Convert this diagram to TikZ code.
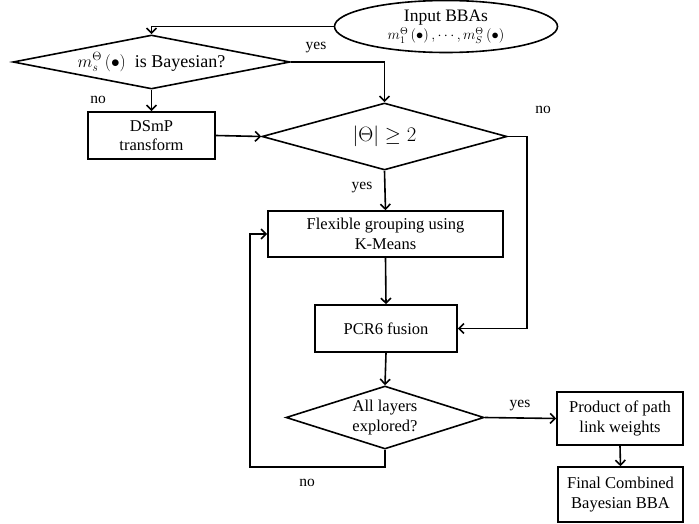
\documentclass[tikz,border=0pt]{standalone}
\usepackage{fontspec}
\setmainfont{Liberation Serif}
\usetikzlibrary{shapes.geometric,arrows.meta}
\begin{document}
\begin{tikzpicture}[x=1pt,y=-1pt,
  every node/.style={inner sep=0pt},
  box/.style={draw, line width=1.6pt, align=center, font=\fontsize{16.5}{19.5}\selectfont},
  dia/.style={draw, diamond, line width=1.6pt, align=center, font=\fontsize{16.5}{19.5}\selectfont},
  arr/.style={line width=1.6pt, -{Straight Barb[length=5pt,width=10pt]}},
  lab/.style={font=\fontsize{15.5}{18}\selectfont}]
\useasboundingbox (0,0) rectangle (699,524);
% nodes
\node[draw, ellipse, line width=1.6pt, minimum width=223pt, minimum height=52pt, align=center,
  font=\fontsize{17.5}{21}\selectfont] (in) at (446,26.5)
  {Input BBAs\\[-3pt]{\fontsize{14}{16}\selectfont$m^{\Theta}_{1}\left(\bullet\right),\cdots,m^{\Theta}_{S}\left(\bullet\right)$}};
\node[dia, aspect=5.13, minimum width=277pt, minimum height=54pt, font=\fontsize{18}{21}\selectfont] (d1) at (151.5,62)
  {$m_s^{\Theta}\left(\bullet\right)$\ \ is Bayesian?};
\node[box, minimum width=127pt, minimum height=47pt] (dsmp) at (151.5,135.5) {DSmP\\transform};
\node[dia, aspect=3.66, minimum width=245pt, minimum height=67pt, font=\fontsize{22}{24}\selectfont] (d2) at (384.5,136.5)
  {$\left|\Theta\right|\geq 2$};
\node[box, minimum width=235pt, minimum height=46pt] (flex) at (385.5,234) {Flexible grouping using\\K-Means};
\node[box, minimum width=142pt, minimum height=47pt] (pcr) at (386,328.5) {PCR6 fusion};
\node[dia, aspect=3.14, minimum width=198pt, minimum height=63pt] (d3) at (385,417.5) {All layers\\explored?};
\node[box, minimum width=126pt, minimum height=53pt] (prod) at (620,418.5) {Product of path\\link weights};
\node[box, minimum width=125pt, minimum height=55pt] (fin) at (620.5,494.5) {Final Combined\\Bayesian BBA};
\coordinate (rt) at (527,136.5);
\coordinate (lp) at (250,467);
% labels
\node[lab] (l1) at (316,48) {yes};
\node[lab] (l2) at (98,100) {no};
\node[lab] (l3) at (543,110) {no};
\node[lab] (l4) at (362,188) {yes};
\node[lab] (l5) at (520,406) {yes};
\node[lab] (l6) at (307,483) {no};
% connectors
\draw[arr] (in.west) -| (d1.north);
\draw[arr] (d1.east) -| (d2.north);
\draw[arr] (d1.south) -- (dsmp.north);
\draw[arr] (dsmp.east) -- (d2.west);
\draw[arr] (d2.east) -- (rt) |- (pcr.east);
\draw[arr] (d2.south) -- (flex.north);
\draw[arr] (flex.south) -- (pcr.north);
\draw[arr] (pcr.south) -- (d3.north);
\draw[arr] (d3.south) -- (d3.south |- lp) -- (lp) |- (flex.west);
\draw[arr] (d3.east) -- (prod.west);
\draw[arr] (prod.south) -- (fin.north);
\end{tikzpicture}
\end{document}
